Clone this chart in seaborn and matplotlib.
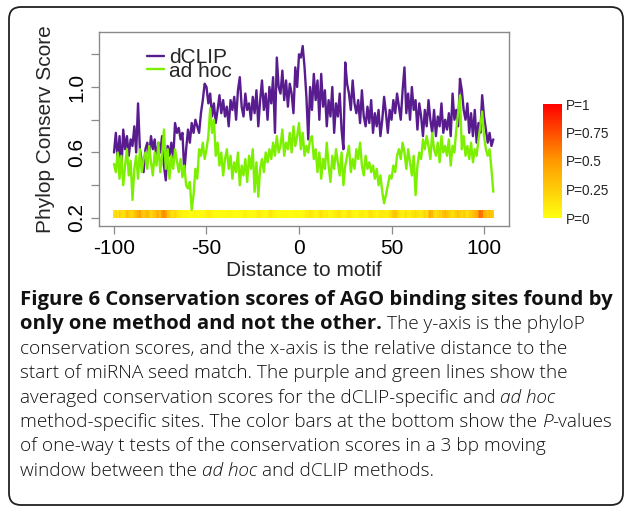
import numpy as np
import pandas as pd
import seaborn as sns
import matplotlib
matplotlib.use("Agg")
import matplotlib.pyplot as plt
from matplotlib.colors import LinearSegmentedColormap
from matplotlib.patches import FancyBboxPatch
from matplotlib.transforms import IdentityTransform
from matplotlib.lines import Line2D

# ---------------- data ----------------
positions = list(range(-100, 106))

dclip = [
    0.60, 0.72, 0.55, 0.70, 0.50, 0.74, 0.62, 0.70, 0.58, 0.68,
    0.64, 0.76, 0.60, 0.90, 0.62, 0.55, 0.48, 0.62, 0.66, 0.58,
    0.70, 0.62, 0.68, 0.55, 0.66, 0.60, 0.70, 0.52, 0.43, 0.64,
    0.58, 0.66, 0.56, 0.78, 0.72, 0.75, 0.68, 0.72, 0.48, 0.62,
    0.74, 0.66, 0.78, 0.72, 0.80, 0.76, 0.72, 0.84, 0.92, 1.02,
    1.00, 0.90, 0.96, 0.82, 0.90, 0.78, 0.86, 0.95, 0.84, 0.92,
    0.82, 0.88, 0.76, 0.92, 0.86, 0.94, 0.80, 0.98, 1.06, 0.88,
    0.82, 0.96, 0.86, 0.90, 0.80, 0.94, 0.84, 0.98, 0.76, 0.92,
    1.04, 0.86, 0.96, 0.80, 1.00, 0.90, 1.06, 0.72, 1.18, 1.00,
    0.96, 1.10, 0.92, 1.04, 0.88, 1.02, 0.96, 0.84, 1.12, 1.00,
    1.20, 1.18, 1.25, 1.12, 0.94, 0.68, 1.00, 0.86, 1.08, 0.92,
    1.04, 0.80, 1.08, 0.88, 0.98, 0.76, 0.92, 0.82, 1.00, 0.72,
    0.90, 0.82, 0.96, 0.74, 0.62, 1.15, 1.02, 0.96, 0.86, 1.04,
    0.90, 0.84, 0.92, 0.78, 0.98, 0.82, 0.76, 0.88, 0.78, 0.92,
    0.72, 0.84, 0.76, 0.86, 0.70, 0.80, 0.94, 0.84, 0.72, 0.86,
    0.80, 0.92, 0.84, 0.96, 0.88, 0.80, 0.98, 1.12, 0.84, 0.96,
    0.80, 1.00, 0.86, 0.92, 0.74, 0.90, 0.82, 0.70, 0.86, 0.76,
    0.92, 0.80, 0.72, 0.86, 0.70, 0.82, 0.76, 0.90, 0.72, 0.80,
    0.74, 0.84, 0.70, 0.96, 0.80, 0.86, 0.76, 1.05, 0.98, 0.86,
    0.80, 0.90, 0.72, 0.84, 0.70, 0.86, 0.66, 0.78, 0.72, 0.95,
    0.82, 0.74, 0.66, 0.72, 0.64, 0.68,
]

adhoc = [
    0.53, 0.48, 0.60, 0.44, 0.58, 0.40, 0.52, 0.62, 0.46, 0.55,
    0.31, 0.50, 0.58, 0.44, 0.62, 0.48, 0.56, 0.60, 0.50, 0.64,
    0.54, 0.46, 0.60, 0.52, 0.66, 0.48, 0.58, 0.74, 0.50, 0.62,
    0.44, 0.58, 0.50, 0.62, 0.55, 0.48, 0.56, 0.45, 0.52, 0.40,
    0.38, 0.42, 0.25, 0.34, 0.50, 0.44, 0.62, 0.58, 0.66, 0.56,
    0.62, 0.70, 0.87, 0.72, 0.80, 0.58, 0.66, 0.52, 0.60, 0.46,
    0.56, 0.62, 0.50, 0.58, 0.44, 0.54, 0.48, 0.60, 0.40, 0.52,
    0.46, 0.56, 0.42, 0.58, 0.50, 0.62, 0.36, 0.54, 0.33, 0.50,
    0.56, 0.48, 0.60, 0.54, 0.62, 0.56, 0.66, 0.58, 0.70, 0.60,
    0.64, 0.74, 0.58, 0.66, 0.62, 0.72, 0.60, 0.76, 0.64, 0.70,
    0.78, 0.62, 0.72, 0.58, 0.64, 0.60, 0.68, 0.70, 0.56, 0.62,
    0.48, 0.60, 0.44, 0.56, 0.50, 0.66, 0.52, 0.42, 0.58, 0.50,
    0.62, 0.54, 0.46, 0.60, 0.40, 0.52, 0.58, 0.64, 0.48, 0.56,
    0.50, 0.62, 0.56, 0.66, 0.52, 0.46, 0.58, 0.50, 0.54, 0.48,
    0.52, 0.44, 0.50, 0.40, 0.46, 0.36, 0.29, 0.34, 0.40, 0.46,
    0.44, 0.52, 0.48, 0.58, 0.62, 0.56, 0.66, 0.60, 0.50, 0.62,
    0.54, 0.46, 0.58, 0.34, 0.52, 0.60, 0.56, 0.68, 0.62, 0.70,
    0.64, 0.56, 0.72, 0.62, 0.58, 0.66, 0.54, 0.70, 0.60, 0.64,
    0.58, 0.68, 0.52, 0.64, 0.60, 0.74, 0.84, 0.95, 0.62, 0.70,
    0.58, 0.64, 0.56, 0.66, 0.54, 0.62, 0.58, 0.68, 0.76, 0.85,
    0.70, 0.62, 0.58, 0.62, 0.50, 0.36,
]

pvals = [
    0.15, 0.20, 0.15, 0.25, 0.20, 0.15, 0.20, 0.30, 0.25, 0.20,
    0.20, 0.25, 0.35, 0.40, 0.45, 0.30, 0.25, 0.30, 0.35, 0.30,
    0.20, 0.25, 0.30, 0.35, 0.40, 0.30, 0.50, 0.55, 0.45, 0.30,
    0.25, 0.20, 0.15, 0.20, 0.15, 0.10, 0.08, 0.05, 0.05, 0.05,
    0.03, 0.02, 0.02, 0.03, 0.05, 0.03, 0.02, 0.02, 0.03, 0.05,
    0.08, 0.10, 0.08, 0.05, 0.03, 0.02, 0.02, 0.03, 0.02, 0.02,
    0.02, 0.03, 0.05, 0.03, 0.02, 0.02, 0.01, 0.02, 0.02, 0.03,
    0.05, 0.08, 0.05, 0.03, 0.02, 0.02, 0.03, 0.05, 0.10, 0.08,
    0.05, 0.03, 0.02, 0.05, 0.10, 0.12, 0.08, 0.05, 0.03, 0.02,
    0.02, 0.02, 0.03, 0.02, 0.02, 0.01, 0.01, 0.02, 0.02, 0.03,
    0.02, 0.02, 0.03, 0.05, 0.08, 0.10, 0.12, 0.10, 0.05, 0.03,
    0.05, 0.10, 0.15, 0.10, 0.08, 0.10, 0.05, 0.03, 0.05, 0.08,
    0.10, 0.15, 0.12, 0.08, 0.05, 0.05, 0.10, 0.15, 0.10, 0.05,
    0.05, 0.03, 0.05, 0.08, 0.10, 0.08, 0.05, 0.08, 0.12, 0.15,
    0.10, 0.08, 0.05, 0.08, 0.10, 0.12, 0.10, 0.08, 0.10, 0.15,
    0.20, 0.25, 0.30, 0.25, 0.15, 0.10, 0.08, 0.12, 0.15, 0.10,
    0.08, 0.12, 0.15, 0.20, 0.15, 0.12, 0.10, 0.15, 0.20, 0.15,
    0.30, 0.40, 0.35, 0.20, 0.15, 0.20, 0.25, 0.20, 0.30, 0.35,
    0.30, 0.25, 0.20, 0.15, 0.20, 0.25, 0.30, 0.25, 0.20, 0.25,
    0.20, 0.15, 0.20, 0.25, 0.30, 0.35, 0.40, 0.55, 0.65, 0.60,
    0.40, 0.35, 0.30, 0.35, 0.30, 0.25,
]

series_names = ["dCLIP", "ad hoc"]
series_colors = ["#581C8F", "#7CF000"]
x_ticks = [-100, -50, 0, 50, 100]
y_ticks = [0.2, 0.4, 0.6, 0.8, 1.0, 1.2]
y_tick_labels = ["0.2", "", "0.6", "", "1.0", ""]
p_ticks = [0, 0.25, 0.5, 0.75, 1]
p_labels = ["P=0", "P=0.25", "P=0.5", "P=0.75", "P=1"]
x_label = "Distance to motif"
y_label = "Phylop Conserv Score"

caption_lines = [
    [("Figure 6 Conservation scores of AGO binding sites found by", "b")],
    [("only one method and not the other.", "b"), (" The y-axis is the phyloP", "r")],
    [("conservation scores, and the x-axis is the relative distance to the", "r")],
    [("start of miRNA seed match. The purple and green lines show the", "r")],
    [("averaged conservation scores for the dCLIP-specific and ", "r"), ("ad hoc", "i")],
    [("method-specific sites. The color bars at the bottom show the ", "r"), ("P", "i"), ("-values", "r")],
    [("of one-way t tests of the conservation scores in a 3 bp moving", "r")],
    [("window between the ", "r"), ("ad hoc", "i"), (" and dCLIP methods.", "r")],
]

# ---------------- style ----------------
sns.set_style("white")
plt.rcParams['font.family'] = ['Liberation Sans', 'DejaVu Sans']

W, H = 627, 511
fig = plt.figure(figsize=(W / 100, H / 100), dpi=100)


def px(x0, y0, x1, y1):
    return [x0 / W, 1 - y1 / H, (x1 - x0) / W, (y1 - y0) / H]


ax = fig.add_axes(px(99, 32, 509, 226))

n = len(positions)
df = pd.DataFrame({
    "pos": positions * 2,
    "score": dclip + adhoc,
    "method": [series_names[0]] * n + [series_names[1]] * n,
})
sns.lineplot(data=df, x="pos", y="score", hue="method", hue_order=series_names,
             palette=series_colors, lw=1.7, ax=ax, legend=False)

cmap = LinearSegmentedColormap.from_list("py", ["#FFFF10", "#FF9A00", "#FF0000"])
xedges = np.array(positions + [positions[-1] + 1]) - 0.5
mesh = ax.pcolormesh(xedges, [0.2, 0.246], np.array([pvals]), cmap=cmap,
                     vmin=0, vmax=1, shading="flat")

ax.set_xlim(-108.1, 113.5)
ax.set_ylim(0.151, 1.336)
ax.set_xticks(x_ticks)
ax.set_xticklabels([str(t) for t in x_ticks])
ax.set_yticks(y_ticks)
ax.set_yticklabels(y_tick_labels, rotation=90, va="center")
ax.tick_params(axis="both", which="major", direction="out", length=6, width=0.9,
               color="#8a8a8a", labelsize=15, labelcolor="black",
               bottom=True, left=True)
ax.tick_params(axis="x", pad=3)
ax.tick_params(axis="y", pad=3)
for s in ax.spines.values():
    s.set_color("#8a8a8a")
    s.set_linewidth(1.0)

ax.set_xlabel(x_label, fontsize=15, va="center")
ax.set_ylabel(y_label, fontsize=15, va="center")
ax.xaxis.set_label_coords(0.5, (226 - 271) / 194)
ax.yaxis.set_label_coords((46 - 99) / 410, 0.5)

handles = [Line2D([], [], color=c, lw=1.7) for c in series_colors]
ax.legend(handles, series_names, loc="upper left",
          bbox_to_anchor=((147 - 99) / 410, (226 - 48) / 194),
          frameon=False, fontsize=15, borderpad=0, borderaxespad=0,
          handlelength=0.8, handletextpad=0.25, labelspacing=-0.25)

# colour key
cax = fig.add_axes(px(543, 104, 562, 218))
cb = fig.colorbar(mesh, cax=cax, ticks=p_ticks)
cb.ax.set_yticklabels(p_labels)
cb.outline.set_visible(False)
cax.tick_params(length=0, labelsize=9.8, pad=3)

# rounded border
border = FancyBboxPatch((9, H - 505), 614, 498,
                        boxstyle="round,pad=0,rounding_size=12",
                        transform=IdentityTransform(), fill=False,
                        ec="#222222", lw=1.3)
fig.add_artist(border)

# caption
renderer = fig.canvas.get_renderer()
cap_family = ['Open Sans', 'DejaVu Sans']
styles = {"b": ("bold", "normal"), "r": ("light", "normal"), "i": ("light", "italic")}


def measure(s, size, kind):
    w, st = styles[kind]
    t = fig.text(0, 0, s, fontsize=size, fontweight=w, fontstyle=st, family=cap_family)
    bb = t.get_window_extent(renderer)
    t.remove()
    return bb.width


base = 12.0
bold_size = base * 591.0 / measure(caption_lines[0][0][0], base, "b")
line6 = "".join(t for t, _ in caption_lines[5])
reg_size = base * 593.0 / measure(line6, base, "r")
sizes = {"b": bold_size, "r": reg_size, "i": reg_size}
space_w = {k: measure("a a", sizes[k], k) - measure("aa", sizes[k], k) for k in styles}

x_start = 20
baseline0 = 305
line_gap = 24.4
for i, runs in enumerate(caption_lines):
    x = x_start
    yb = H - (baseline0 + i * line_gap)
    for text, kind in runs:
        lead = len(text) - len(text.lstrip(" "))
        trail = len(text) - len(text.rstrip(" "))
        core = text.strip(" ")
        x += lead * space_w[kind]
        w, st = styles[kind]
        t = fig.text(x / W, yb / H, core, fontsize=sizes[kind], fontweight=w, fontstyle=st,
                     family=cap_family, color="#111111", va="baseline", ha="left")
        x += t.get_window_extent(renderer).width
        x += trail * space_w[kind]

fig.savefig("out.png", dpi=100)
